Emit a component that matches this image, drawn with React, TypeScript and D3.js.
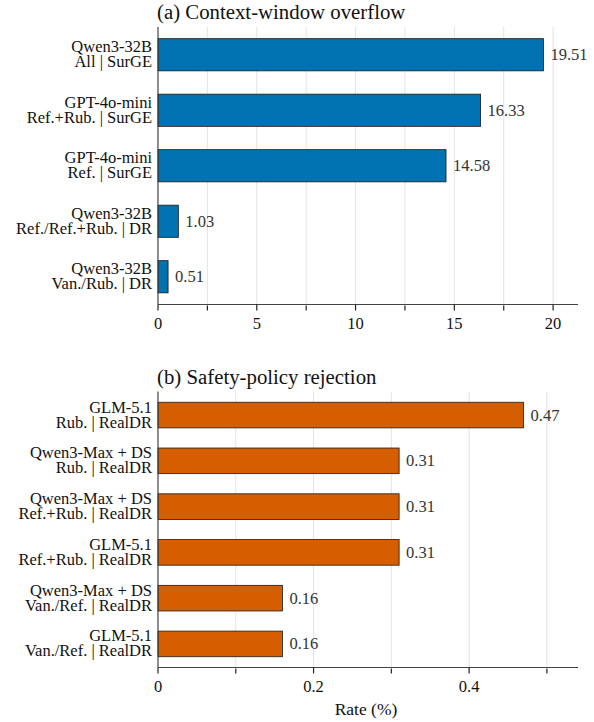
import React from 'react';
import * as d3 from 'd3';

// (a) context-window overflow
const overflowLabels = [
  ['Qwen3-32B', 'All | SurGE'],
  ['GPT-4o-mini', 'Ref.+Rub. | SurGE'],
  ['GPT-4o-mini', 'Ref. | SurGE'],
  ['Qwen3-32B', 'Ref./Ref.+Rub. | DR'],
  ['Qwen3-32B', 'Van./Rub. | DR'],
];
const overflowValues = [19.51, 16.33, 14.58, 1.03, 0.51];
const overflowTicks = [0, 5, 10, 15, 20];
const overflowMinor = [2.5, 7.5, 12.5, 17.5];

// (b) safety-policy rejection
const safetyLabels = [
  ['GLM-5.1', 'Rub. | RealDR'],
  ['Qwen3-Max + DS', 'Rub. | RealDR'],
  ['Qwen3-Max + DS', 'Ref.+Rub. | RealDR'],
  ['GLM-5.1', 'Ref.+Rub. | RealDR'],
  ['Qwen3-Max + DS', 'Van./Ref. | RealDR'],
  ['GLM-5.1', 'Van./Ref. | RealDR'],
];
const safetyValues = [0.47, 0.31, 0.31, 0.31, 0.16, 0.16];
const safetyTicks = [0, 0.2, 0.4];
const safetyMinor = [0.1, 0.3, 0.5];

const FONT = 'Liberation Serif';

interface PanelProps {
  title: string;
  labels: string[][];
  values: number[];
  ticks: number[];
  minor: number[];
  xMax: number;
  top: number;
  bottom: number;
  pad: [number, number];
  color: string;
}

const Panel: React.FC<PanelProps> = ({ title, labels, values, ticks, minor, xMax, top, bottom, pad, color }) => {
  const left = 158;
  const right = 578;
  const x = d3.scaleLinear().domain([0, xMax]).range([left, right]);
  const y = d3.scaleBand<number>()
    .domain(values.map((_, i) => i))
    .range([top, bottom])
    .paddingInner(pad[0])
    .paddingOuter(pad[1]);
  const grid = [...ticks, ...minor].filter(t => t > 0);

  return (
    <g>
      <text x={left - 1} y={top - 8} fontSize={20.8} fontFamily={FONT} fill="#111">{title}</text>
      {grid.map(t => (
        <line key={'g' + t} x1={x(t)} x2={x(t)} y1={top} y2={bottom} stroke="#e4e4e8" strokeWidth={1} />
      ))}
      {values.map((v, i) => {
        const cy = y(i)! + y.bandwidth() / 2;
        return (
          <g key={i}>
            <rect x={x(0)} y={y(i)!} width={x(v) - x(0)} height={y.bandwidth()}
              fill={color} stroke="#1a1a1a" strokeWidth={0.8} />
            <text x={x(v) + 7} y={cy + 5.5} fontSize={16.5} fontFamily={FONT} fill="#333">{v.toFixed(2)}</text>
            <text x={left - 6} y={cy - 2.5} textAnchor="end" fontSize={16.5} fontFamily={FONT} fill="#111">{labels[i][0]}</text>
            <text x={left - 6} y={cy + 12.5} textAnchor="end" fontSize={16.5} fontFamily={FONT} fill="#111">{labels[i][1]}</text>
          </g>
        );
      })}
      <line x1={left} x2={left} y1={top} y2={bottom} stroke="#444" strokeWidth={1.2} />
      <line x1={left} x2={right} y1={bottom} y2={bottom} stroke="#444" strokeWidth={1.2} />
      {ticks.map(t => (
        <g key={'t' + t}>
          <line x1={x(t)} x2={x(t)} y1={bottom} y2={bottom + 6} stroke="#222" strokeWidth={1.2} />
          <text x={x(t)} y={bottom + 24} textAnchor="middle" fontSize={16.5} fontFamily={FONT} fill="#111">{String(t)}</text>
        </g>
      ))}
      {minor.map(t => (
        <line key={'m' + t} x1={x(t)} x2={x(t)} y1={bottom + 1} y2={bottom + 6} stroke="#222" strokeWidth={1.2} />
      ))}
    </g>
  );
};

const App: React.FC = () => (
  <svg width={594} height={722} style={{ position: 'absolute', left: 0, top: 0, background: '#fff' }}>
    <rect width={594} height={722} fill="#fff" />
    <Panel title="(a) Context-window overflow" labels={overflowLabels} values={overflowValues}
      ticks={overflowTicks} minor={overflowMinor} xMax={21.26} top={27} bottom={304.5} pad={[0.42, 0.21]}
      color="#0072B2" />
    <Panel title="(b) Safety-policy rejection" labels={safetyLabels} values={safetyValues}
      ticks={safetyTicks} minor={safetyMinor} xMax={0.54} top={391.5} bottom={667.5} pad={[0.44, 0.235]}
      color="#D55E00" />
    <text x={366} y={715} textAnchor="middle" fontSize={17.5} fontFamily={FONT} fill="#111">Rate (%)</text>
  </svg>
);

export default App;
